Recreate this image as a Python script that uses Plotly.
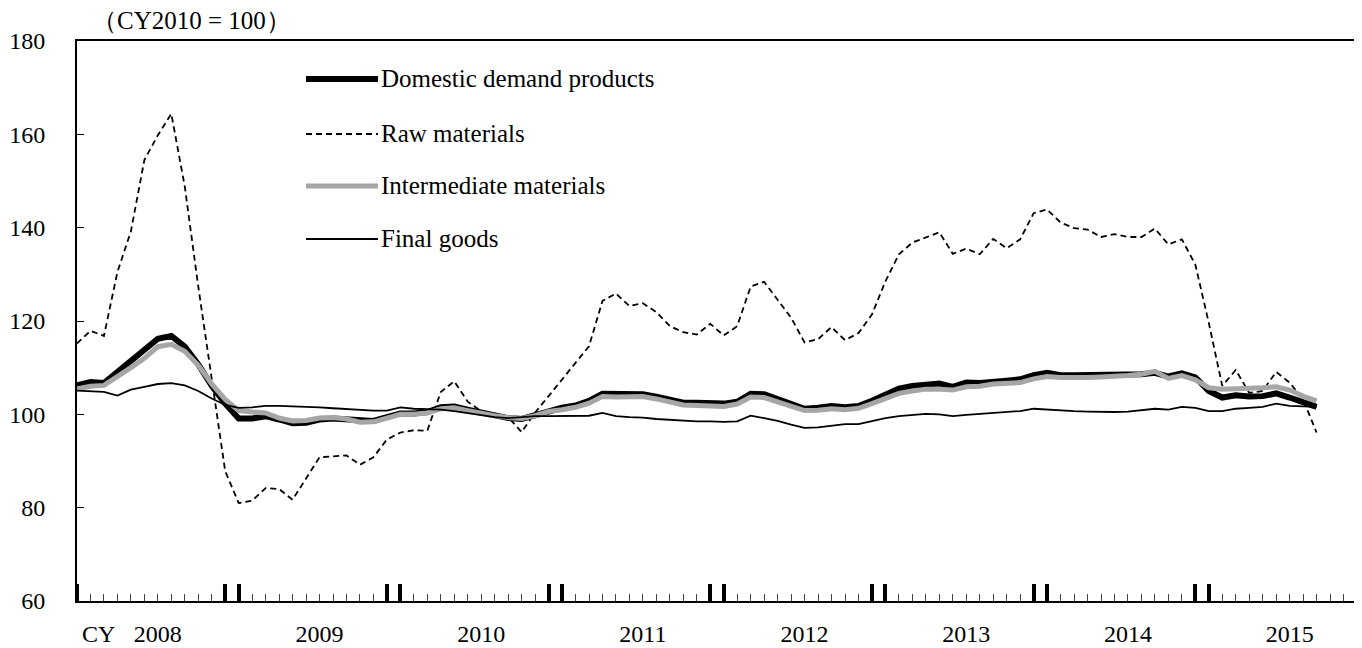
import plotly.graph_objects as go

# Monthly categories, Jan 2008 - Sep 2015
years = [2008, 2009, 2010, 2011, 2012, 2013, 2014, 2015]
months = [f"{y}-{m:02d}" for y in years for m in range(1, 13)][:93]

domestic = [106.2, 106.9, 106.7, 109.1, 111.4, 113.9, 116.2, 116.8, 114.5, 110.7,
            106.1, 102.3, 99.1, 99.1, 99.6, 98.9, 98.1, 98.2, 98.9, 99.1,
            98.9, 98.5, 98.6, 99.4, 100.2, 100.2, 100.5, 101.5, 101.7, 101.0,
            100.3, 99.7, 99.2, 99.0, 99.8, 100.8, 101.4, 101.9, 102.9, 104.4,
            104.3, 104.2, 104.3, 103.8, 103.2, 102.5, 102.5, 102.5, 102.3, 102.7,
            104.4, 104.3, 103.2, 102.1, 101.2, 101.4, 101.8, 101.5, 101.8, 102.9,
            104.3, 105.5, 106.1, 106.5, 106.6, 105.9, 106.8, 106.7, 107.1, 107.2,
            107.5, 108.4, 108.9, 108.4, 108.4, 108.4, 108.3, 108.4, 108.5, 108.6,
            108.9, 108.1, 108.8, 107.9, 105.0, 103.6, 104.1, 103.8, 103.9, 104.5,
            103.6, 102.5, 101.6]

raw = [115.2, 117.9, 116.8, 130.5, 139.2, 154.5, 159.8, 164.4, 148.8, 127.4,
       107.6, 87.8, 81.0, 81.5, 84.2, 84.0, 81.7, 86.3, 90.8, 91.0,
       91.2, 89.2, 90.8, 94.6, 96.1, 96.6, 96.5, 104.8, 107.1, 102.7,
       100.7, 100.0, 99.4, 96.2, 100.4, 103.9, 107.5, 111.1, 114.6, 124.3,
       125.9, 123.2, 123.8, 121.9, 118.9, 117.6, 117.1, 119.4, 116.9, 118.9,
       127.4, 128.4, 124.6, 120.7, 115.4, 116.1, 118.7, 115.9, 117.4, 121.4,
       128.5, 134.3, 136.8, 137.9, 139.0, 134.4, 135.5, 134.3, 137.6, 135.6,
       137.5, 143.1, 143.9, 141.1, 139.9, 139.6, 138.0, 138.6, 138.0, 138.0,
       139.8, 136.4, 137.5, 132.1, 119.6, 106.1, 109.5, 104.6, 105.0, 109.1,
       106.8, 103.2, 96.1]

intermediate = [105.5, 106.0, 106.2, 108.0, 110.0, 112.0, 114.5, 115.0, 113.5, 110.5,
                106.5, 103.2, 100.8, 100.5, 100.3, 99.2, 98.6, 98.7, 99.2, 99.3,
                99.0, 98.3, 98.4, 99.2, 100.0, 100.0, 100.3, 101.2, 101.4, 100.8,
                100.2, 99.7, 99.3, 99.1, 99.7, 100.6, 101.0, 101.5, 102.4, 103.8,
                103.7, 103.7, 103.8, 103.3, 102.7, 102.0, 101.9, 101.9, 101.7, 102.2,
                103.7, 103.6, 102.7, 101.6, 100.8, 100.9, 101.2, 101.0, 101.3, 102.3,
                103.5, 104.5, 105.0, 105.4, 105.4, 105.2, 105.9, 106.0, 106.5, 106.7,
                106.8, 107.6, 108.1, 107.9, 107.8, 107.9, 108.0, 108.1, 108.3, 108.6,
                109.2, 107.7, 108.3, 107.4, 105.7, 105.4, 105.6, 105.6, 105.7, 105.9,
                105.2, 103.9, 102.9]

final = [105.1, 105.0, 104.8, 104.0, 105.3, 105.9, 106.5, 106.7, 106.2, 105.0,
         103.4, 102.0, 101.4, 101.5, 101.8, 101.8, 101.7, 101.7, 101.5, 101.3,
         101.1, 100.9, 100.8, 100.8, 101.5, 101.2, 101.1, 101.0, 100.7, 100.3,
         99.9, 99.4, 99.2, 99.4, 99.6, 99.6, 99.6, 99.6, 99.7, 100.3,
         99.6, 99.4, 99.3, 99.0, 98.8, 98.6, 98.5, 98.5, 98.4, 98.5,
         99.7, 99.2, 98.6, 97.8, 97.1, 97.2, 97.6, 97.9, 97.9, 98.6,
         99.2, 99.6, 99.9, 100.1, 100.0, 99.6, 99.9, 100.1, 100.4, 100.5,
         100.7, 101.2, 101.0, 100.9, 100.7, 100.6, 100.5, 100.5, 100.6, 100.9,
         101.2, 101.0, 101.6, 101.4, 100.7, 100.7, 101.2, 101.4, 101.6, 102.3,
         101.8, 101.7, 101.6]

series_names = ["Domestic demand products", "Raw materials",
                "Intermediate materials", "Final goods"]
year_labels = [str(y) for y in years]

n_slots = 96  # Jan 2008 .. Dec 2015
x = list(range(len(months)))

FONT = "Liberation Serif, Times New Roman, serif"

# target plot area in page pixels; the page body adds an 8px offset
OFF = 8
FIG_W, FIG_H = 1362 - OFF, 648 - OFF
L, R, T, B = 77, 1357, 41, 601
W, H = R - L, B - T

fig = go.Figure()
styles = [
    dict(color="black", width=6),
    dict(color="black", width=1.8, dash="6px,4px"),
    dict(color="#a6a6a6", width=5),
    dict(color="black", width=1.8),
]
for name, vals, st in zip(series_names, [domestic, raw, intermediate, final], styles):
    fig.add_trace(go.Scatter(x=x, y=vals, mode="lines", name=name, line=st,
                             showlegend=False, hoverinfo="skip"))

# invisible trace to activate the year-label axis
fig.add_trace(go.Scatter(x=[0], y=[None], xaxis="x2", showlegend=False, hoverinfo="skip"))

year_bounds = [v for k in range(1, 8) for v in (12 * k - 1, 12 * k)]

fig.update_layout(
    width=FIG_W, height=FIG_H,
    margin=dict(l=L - OFF, r=FIG_W - (R - OFF), t=T - OFF, b=FIG_H - (B - OFF),
                autoexpand=False),
    paper_bgcolor="white", plot_bgcolor="white",
    font=dict(family=FONT, size=22, color="black"),
    xaxis=dict(range=[0, n_slots - 1], tickmode="array", tickvals=year_bounds,
               ticks="inside", ticklen=17, tickwidth=4, tickcolor="black",
               showticklabels=False, showgrid=False, zeroline=False, automargin=False,
               showline=True, linecolor="black", linewidth=2, mirror=True,
               minor=dict(tickmode="linear", tick0=0, dtick=1, ticks="inside",
                          ticklen=7, tickwidth=1, tickcolor="#444", showgrid=False)),
    xaxis2=dict(range=[0, n_slots - 1], overlaying="x", anchor="y", side="bottom",
                tickmode="array", tickvals=[12 * k + 6 for k in range(len(years))],
                ticktext=year_labels, ticks="", showline=False, showgrid=False,
                zeroline=False, ticklabelstandoff=16, automargin=False,
                tickfont=dict(family=FONT, size=24)),
    yaxis=dict(range=[60, 180], tickmode="linear", tick0=60, dtick=20,
               ticks="inside", ticklen=7, tickwidth=1, tickcolor="black",
               showgrid=False, zeroline=False, showline=True, linecolor="black",
               linewidth=2, ticklabelstandoff=25, automargin=False,
               tickfont=dict(family=FONT, size=24)),
)

# thick end ticks of the time axis (at the first and last month slot)
for xe in (0, n_slots - 1):
    fig.add_shape(type="line", xref="x", yref="paper", x0=xe, x1=xe,
                  y0=0, y1=17 / H, line=dict(color="black", width=4))

# Legend drawn as line samples + text
leg_y_px = [79, 134, 186, 239]
for name, st, py in zip(series_names, styles, leg_y_px):
    yp = (B - py) / H
    fig.add_shape(type="line", xref="paper", yref="paper",
                  x0=(306 - L) / W, x1=(378 - L) / W, y0=yp, y1=yp, line=st)
    fig.add_annotation(xref="paper", yref="paper", x=(379 - L) / W, y=yp,
                       text=name, showarrow=False, xanchor="left", yanchor="middle",
                       font=dict(family=FONT, size=25))

fig.add_annotation(xref="paper", yref="paper", x=(90 - L) / W, y=(B - 21) / H,
                   text="（CY2010 = 100）", showarrow=False, xanchor="left",
                   yanchor="middle", font=dict(family=FONT, size=25))
fig.add_annotation(xref="paper", yref="paper", x=(80 - L) / W, y=(B - 634) / H,
                   text="CY", showarrow=False, xanchor="left", yanchor="middle",
                   font=dict(family=FONT, size=24))

fig.write_html("out.html")
